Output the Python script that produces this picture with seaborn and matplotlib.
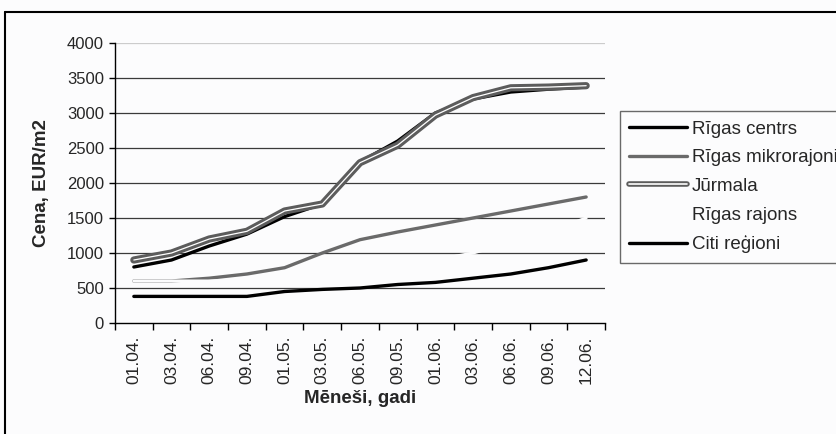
"""
Nekustamā īpašuma cenas pa reģioniem (EUR/m2)
"""
import matplotlib
matplotlib.use('Agg')
import matplotlib.pyplot as plt
import seaborn as sns
import pandas as pd
from matplotlib.lines import Line2D

# Data
months = ['01.04.', '03.04.', '06.04.', '09.04.', '01.05.', '03.05.', '06.05.',
          '09.05.', '01.06.', '03.06.', '06.06.', '09.06.', '12.06.']
riga_centrs = [800, 900, 1100, 1270, 1520, 1700, 2300, 2600, 3000, 3200, 3300, 3340, 3370]
riga_mikro = [600, 600, 640, 700, 790, 1000, 1190, 1300, 1400, 1500, 1600, 1700, 1800]
jurmala = [900, 1000, 1200, 1310, 1600, 1700, 2290, 2540, 2970, 3220, 3360, 3370, 3390]
riga_rajons = [600, 600, 600, 620, 650, 700, 750, 800, 900, 1000, 1150, 1300, 1500]
citi = [380, 380, 380, 380, 450, 480, 500, 550, 580, 640, 700, 790, 900]
y_ticks = [0, 500, 1000, 1500, 2000, 2500, 3000, 3500, 4000]

df = pd.DataFrame({'month': months, 'centrs': riga_centrs, 'mikro': riga_mikro,
                   'jurmala': jurmala, 'rajons': riga_rajons, 'citi': citi})

sns.set_style('white')
plt.rcParams['font.family'] = ['Liberation Sans', 'DejaVu Sans']

bg = '#fcfcfd'
fig = plt.figure(figsize=(8.37, 4.34), dpi=100, facecolor=bg)
ax = fig.add_axes([115 / 837, 1 - 323 / 434, 490 / 837, 280 / 434])
ax.set_facecolor(bg)

# gridlines
for v in y_ticks[1:]:
    ax.axhline(v, color='#cccccc' if v == 4000 else '#3a3a3a', lw=0.9, zorder=0)

# series (Rīgas rajons is drawn in the background colour, as in the original)
sns.lineplot(data=df, x='month', y='centrs', color='black', lw=2.4, sort=False, ax=ax, zorder=3)
sns.lineplot(data=df, x='month', y='mikro', color='#6a6a6a', lw=2.4, sort=False, ax=ax, zorder=2)
sns.lineplot(data=df, x='month', y='jurmala', color='#5c5c5c', lw=5.2, sort=False, ax=ax, zorder=4)
sns.lineplot(data=df, x='month', y='jurmala', color='white', lw=0.9, sort=False, ax=ax, zorder=5)
sns.lineplot(data=df, x='month', y='rajons', color=bg, lw=2.2, sort=False, ax=ax, zorder=2.5)
sns.lineplot(data=df, x='month', y='citi', color='black', lw=2.4, sort=False, ax=ax, zorder=3)

ax.set_xlim(-0.5, len(months) - 0.5)
ax.set_ylim(0, 4000)
ax.set_yticks(y_ticks)
ax.set_xticks(range(len(months)))
ax.set_xticklabels(months, rotation=90, fontsize=12.5)
ax.set_xticks([i - 0.5 for i in range(len(months) + 1)], minor=True)
ax.tick_params(axis='x', which='major', length=0, pad=9)
ax.tick_params(axis='x', which='minor', length=5, width=1, color='black', direction='out')
ax.tick_params(axis='y', length=4, width=1, color='black', direction='out', labelsize=12, pad=4)
ax.tick_params(left=True, bottom=True, which='both')

for s in ['top', 'right']:
    ax.spines[s].set_visible(False)
for s in ['left', 'bottom']:
    ax.spines[s].set_color('black')
    ax.spines[s].set_linewidth(1.0)

ax.set_xlabel('Mēneši, gadi', fontsize=13.5, fontweight='bold', labelpad=4)
ax.set_ylabel('Cena, EUR/m2', fontsize=13.5, fontweight='bold', labelpad=12)

# legend
h_centrs = Line2D([], [], color='black', lw=2.4)
h_mikro = Line2D([], [], color='#6a6a6a', lw=2.4)
h_jur = (Line2D([], [], color='#5c5c5c', lw=4.0), Line2D([], [], color='white', lw=1.2))
h_raj = Line2D([], [], color=bg, lw=2.2)
h_citi = Line2D([], [], color='black', lw=2.4)
leg = fig.legend([h_centrs, h_mikro, h_jur, h_raj, h_citi],
                 ['Rīgas centrs', 'Rīgas mikrorajoni', 'Jūrmala', 'Rīgas rajons', 'Citi reģioni'],
                 loc='upper left', bbox_to_anchor=(620 / 837, 1 - 111 / 434),
                 fontsize=13.5, frameon=True, fancybox=False, handlelength=3.1,
                 handletextpad=0.25, labelspacing=0.62, borderpad=0.5, borderaxespad=0)
leg.get_frame().set_edgecolor('#444444')
leg.get_frame().set_linewidth(1.0)
leg.get_frame().set_facecolor(bg)

# outer chart frame (cut at right and bottom)
fig.add_artist(Line2D([5 / 837, 1.0], [1 - 12 / 434] * 2, color='black', lw=1.5))
fig.add_artist(Line2D([5 / 837] * 2, [0.0, 1 - 12 / 434], color='black', lw=1.5))

plt.savefig('out.png', dpi=100, facecolor=bg)
plt.close()
